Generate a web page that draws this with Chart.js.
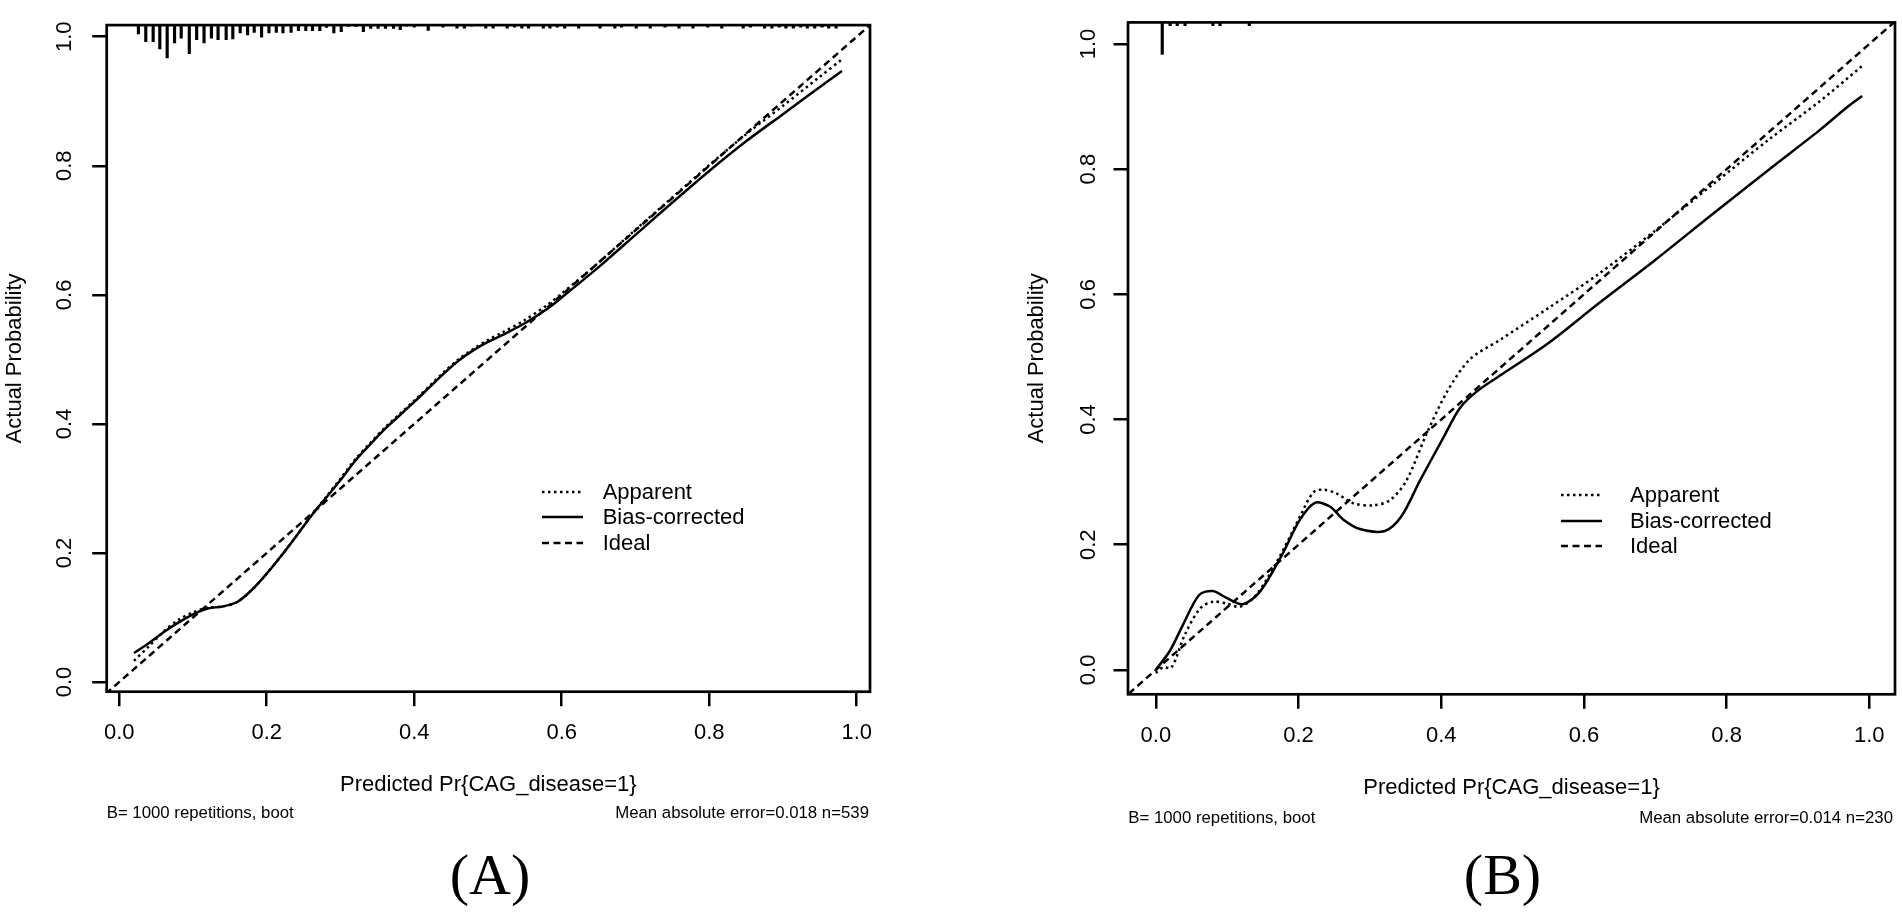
<!DOCTYPE html>
<html>
<head>
<meta charset="utf-8">
<title>Calibration curves</title>
<script src="https://cdn.jsdelivr.net/npm/chart.js@4.4.1/dist/chart.umd.min.js"></script>
<style>
  html, body { margin: 0; padding: 0; background: #fff; }
  body { width: 1902px; height: 912px; position: relative; overflow: hidden;
         font-family: "Liberation Sans", Arial, sans-serif; color: #000; }
  canvas { position: absolute; top: 0; }
  .note { position: absolute; font-size: 16.8px; line-height: 20px; white-space: nowrap; }
  .letter { position: absolute; width: 200px; text-align: center;
            font-family: "Liberation Serif", "Times New Roman", serif; font-size: 58px; line-height: 58px; }
  .legtext { position: absolute; font-size: 22px; line-height: 26px; white-space: nowrap; }
  .legline { position: absolute; }
</style>
</head>
<body>
<canvas id="chartA" width="951" height="912" style="left:0px"></canvas>
<canvas id="chartB" width="951" height="912" style="left:951px"></canvas>

<script>
// Shared labels
const tickValues = [0, 0.2, 0.4, 0.6, 0.8, 1.0];
const legendLabels = ["Apparent", "Bias-corrected", "Ideal"];
const xTitle = "Predicted Pr{CAG_disease=1}";
const yTitle = "Actual Probability";

// PANEL A data
const predA = [0.02, 0.04, 0.06, 0.08, 0.10, 0.12, 0.14, 0.16, 0.18, 0.20, 0.22, 0.24, 0.26, 0.28, 0.30,
  0.32, 0.34, 0.36, 0.38, 0.40, 0.42, 0.44, 0.46, 0.48, 0.50, 0.52, 0.55, 0.58, 0.60, 0.65, 0.70,
  0.75, 0.80, 0.85, 0.90, 0.95, 0.98];
const apparentA = [0.033, 0.055, 0.078, 0.096, 0.108, 0.115, 0.117, 0.124, 0.143, 0.168, 0.196, 0.226, 0.257, 0.286, 0.315,
  0.345, 0.370, 0.394, 0.415, 0.436, 0.458, 0.480, 0.500, 0.516, 0.530, 0.542, 0.561, 0.584, 0.602, 0.650, 0.701,
  0.751, 0.801, 0.849, 0.893, 0.938, 0.965];
const biasA = [0.045, 0.060, 0.077, 0.092, 0.105, 0.114, 0.117, 0.124, 0.143, 0.168, 0.196, 0.226, 0.257, 0.285, 0.313,
  0.343, 0.368, 0.392, 0.413, 0.434, 0.456, 0.478, 0.498, 0.514, 0.527, 0.538, 0.556, 0.578, 0.596, 0.643, 0.693,
  0.743, 0.792, 0.838, 0.880, 0.922, 0.947];
const idealA = [-0.03, 1.03];
const rugA_x = [0.026, 0.036, 0.046, 0.055, 0.065, 0.075, 0.084, 0.095, 0.105, 0.115, 0.125, 0.134, 0.145, 0.154,
  0.164, 0.174, 0.183, 0.193, 0.203, 0.213, 0.222, 0.233, 0.243, 0.253, 0.262, 0.272, 0.281, 0.291, 0.301,
  0.311, 0.321, 0.331, 0.341, 0.351, 0.361, 0.372, 0.381, 0.390, 0.400, 0.419, 0.439, 0.458, 0.468, 0.478,
  0.497, 0.507, 0.526, 0.536, 0.546, 0.555, 0.575, 0.584, 0.594, 0.604, 0.623, 0.652, 0.672, 0.681, 0.701,
  0.720, 0.740, 0.759, 0.778, 0.798, 0.817, 0.846, 0.856, 0.875, 0.885, 0.895, 0.904, 0.914, 0.924, 0.933,
  0.943, 0.953, 0.962, 0.972];
const rugA_n = [9, 16.7, 16.7, 24, 33.3, 18, 13.3, 29, 14.7, 18, 13.3, 14.7, 14.7, 14,
  8, 10, 7.3, 12.3, 8, 7.3, 8, 7.3, 5.7, 5.7, 5.7, 5.7, 2.3, 8, 6.7,
  1.3, 1.3, 6.7, 3.3, 3.3, 3.3, 3.3, 4.7, 1, 2, 5.5, 2, 3, 3, 1,
  3, 3, 3, 2, 3, 3, 3, 3, 2, 3, 3, 3, 3, 2, 3,
  3, 2, 3, 3, 2, 3, 3, 2, 3, 3, 2, 3, 3, 2, 3,
  3, 2, 3, 3];
const footA = ["B= 1000 repetitions, boot", "Mean absolute error=0.018 n=539"];

// PANEL B data
const apparentB_x = [0.0, 0.01, 0.022, 0.041, 0.062, 0.080, 0.099, 0.118, 0.141, 0.174, 0.202, 0.221, 0.235, 0.253,
  0.277, 0.305, 0.328, 0.351, 0.379, 0.408, 0.440, 0.482, 0.55, 0.62, 0.70, 0.78, 0.86, 0.93, 0.99];
const apparentB_y = [-0.005, 0.004, 0.004, 0.057, 0.098, 0.109, 0.106, 0.101, 0.120, 0.182, 0.245, 0.284, 0.288, 0.282,
  0.266, 0.263, 0.271, 0.302, 0.376, 0.444, 0.496, 0.527, 0.578, 0.632, 0.702, 0.775, 0.848, 0.908, 0.965];
const biasB_x = [0.0, 0.02, 0.038, 0.061, 0.080, 0.099, 0.122, 0.146, 0.176, 0.202, 0.223, 0.244, 0.263, 0.286,
  0.321, 0.344, 0.370, 0.403, 0.426, 0.450, 0.482, 0.55, 0.62, 0.70, 0.78, 0.86, 0.93, 0.97, 0.99];
const biasB_y = [0.0, 0.031, 0.072, 0.120, 0.126, 0.115, 0.105, 0.125, 0.182, 0.240, 0.267, 0.261, 0.240, 0.225,
  0.222, 0.245, 0.302, 0.371, 0.418, 0.445, 0.470, 0.522, 0.585, 0.655, 0.728, 0.800, 0.862, 0.900, 0.917];
const idealB = [-0.05, 1.05];
const rugB_x = [0.009, 0.020, 0.030, 0.041, 0.080, 0.090, 0.131];
const rugB_n = [33, 3.3, 3.3, 3.3, 3.3, 3.3, 3.3];
const footB = ["B= 1000 repetitions, boot", "Mean absolute error=0.014 n=230"];

// Page layout (pixels, page coordinates)
const layoutA = {
  canvas: "chartA", left: 0, width: 951, letter: "(A)",
  area: { left: 106.7, top: 8, right: 870, bottom: 691.7 },
  xRange: [-0.017, 1.018], yRange: [-0.015, 1.018],
  tickY: 733, yTickX: 65, xTitleY: 785, yTitleX: 15,
  legendLine: [541.7, 583], legendTextX: 602.7, legendY: [491.7, 517, 542.7],
  footY: 813, footLeft: 106.7, footRight: 869, letterX: 490
};
const layoutB = {
  canvas: "chartB", left: 951, width: 951, letter: "(B)",
  area: { left: 1128, top: 10, right: 1895, bottom: 694.3 },
  xRange: [-0.039, 1.036], yRange: [-0.039, 1.0345],
  tickY: 735.5, yTickX: 1089, xTitleY: 788.3, yTitleX: 1037,
  legendLine: [1561, 1602], legendTextX: 1630, legendY: [495, 520.5, 546],
  footY: 817.5, footLeft: 1128.3, footRight: 1893, letterX: 1502.5
};

const FONT = '"Liberation Sans", Arial, sans-serif';
const LABEL_SIZE = 22;
const TICK_LEN = 14.5;
const SPIKE_MAX = 0.051;   // longest rug spike, in y units
const lineStyles = [
  { dash: [2.5, 3.5], width: 2.5 },
  { dash: [], width: 2.5 },
  { dash: [7, 4.5], width: 2.5 }
];

Chart.defaults.font.family = FONT;
Chart.defaults.color = "#000";

function pairs(xs, ys) {
  return xs.map((x, i) => ({ x: x, y: ys[i] }));
}

// box around the plot region, like R's bty="o"
const framePlugin = {
  id: "frame",
  afterDraw(chart) {
    const { ctx, chartArea: a } = chart;
    ctx.save();
    ctx.strokeStyle = "#000";
    ctx.lineWidth = 2.7;
    ctx.strokeRect(a.left, a.top, a.right - a.left, a.bottom - a.top);
    ctx.restore();
  }
};

function measure(text, size) {
  const c = document.createElement("canvas").getContext("2d");
  c.font = size + "px " + FONT;
  return c.measureText(text).width;
}

function makeChart(L, series) {
  const a = L.area;
  const lineH = LABEL_SIZE * 1.2;
  const halfWidest = measure("0.0", LABEL_SIZE) / 2;
  const maxN = Math.max.apply(null, series.rugN);
  const yTop = L.yRange[1];

  const datasets = series.lines.map((s, i) => ({
    label: legendLabels[i],
    data: pairs(s.x, s.y),
    borderColor: "#000",
    borderWidth: lineStyles[i].width,
    borderDash: lineStyles[i].dash,
    pointRadius: 0,
    fill: false,
    tension: i === 2 ? 0 : 0.3,
    order: 1
  }));

  datasets.push({
    type: "bar",
    label: "rug",
    data: series.rugX.map((x, i) => ({ x: x, y: [yTop - series.rugN[i] / maxN * SPIKE_MAX, yTop] })),
    backgroundColor: "#000",
    borderWidth: 0,
    barThickness: 2.5,
    order: 2
  });

  const gridOpts = {
    drawOnChartArea: false, drawTicks: true, tickLength: TICK_LEN,
    color: "#000", lineWidth: 2.5, offset: false
  };

  return new Chart(document.getElementById(L.canvas), {
    type: "line",
    data: { datasets: datasets },
    options: {
      responsive: false,
      animation: false,
      devicePixelRatio: 1,
      layout: { padding: { left: 0, top: a.top, right: L.left + L.width - a.right, bottom: 0 } },
      plugins: { legend: { display: false }, tooltip: { enabled: false } },
      scales: {
        x: {
          type: "linear",
          offset: false,
          min: L.xRange[0],
          max: L.xRange[1],
          afterBuildTicks: s => { s.ticks = tickValues.map(v => ({ value: v })); },
          afterFit: s => { s.height = 912 - a.bottom; },
          grid: gridOpts,
          border: { display: false },
          ticks: {
            autoSkip: false, maxRotation: 0,
            font: { size: LABEL_SIZE },
            padding: L.tickY - a.bottom - TICK_LEN - lineH / 2,
            callback: v => v.toFixed(1)
          },
          title: {
            display: true, text: xTitle, font: { size: LABEL_SIZE },
            padding: { top: 0, bottom: 912 - L.xTitleY - lineH / 2 }
          }
        },
        y: {
          type: "linear",
          offset: false,
          min: L.yRange[0],
          max: L.yRange[1],
          afterBuildTicks: s => { s.ticks = tickValues.map(v => ({ value: v })); },
          afterFit: s => { s.width = a.left - L.left; },
          grid: gridOpts,
          border: { display: false },
          ticks: {
            autoSkip: false, minRotation: 90, maxRotation: 90, crossAlign: "center",
            font: { size: LABEL_SIZE },
            padding: a.left - L.yTickX - TICK_LEN - halfWidest,
            callback: v => v.toFixed(1)
          },
          title: {
            display: true, text: yTitle, font: { size: LABEL_SIZE },
            padding: { top: L.yTitleX - L.left - lineH / 2, bottom: 0 }
          }
        }
      }
    },
    plugins: [framePlugin]
  });
}

// legend, footnotes and panel letter as page text
function addText(L, foot) {
  legendLabels.forEach((label, i) => {
    const y = L.legendY[i];
    const w = L.legendLine[1] - L.legendLine[0];
    const ns = "http://www.w3.org/2000/svg";
    const svg = document.createElementNS(ns, "svg");
    svg.setAttribute("class", "legline");
    svg.setAttribute("width", w);
    svg.setAttribute("height", 8);
    svg.style.left = L.legendLine[0] + "px";
    svg.style.top = (y - 4) + "px";
    const ln = document.createElementNS(ns, "line");
    ln.setAttribute("x1", 0); ln.setAttribute("y1", 4);
    ln.setAttribute("x2", w); ln.setAttribute("y2", 4);
    ln.setAttribute("stroke", "#000");
    ln.setAttribute("stroke-width", lineStyles[i].width);
    if (lineStyles[i].dash.length) ln.setAttribute("stroke-dasharray", lineStyles[i].dash.join(" "));
    svg.appendChild(ln);
    document.body.appendChild(svg);

    const t = document.createElement("div");
    t.className = "legtext";
    t.textContent = label;
    t.style.left = L.legendTextX + "px";
    t.style.top = (y - 13) + "px";
    document.body.appendChild(t);
  });

  const left = document.createElement("div");
  left.className = "note";
  left.textContent = foot[0];
  left.style.left = L.footLeft + "px";
  left.style.top = (L.footY - 10) + "px";
  document.body.appendChild(left);

  const right = document.createElement("div");
  right.className = "note";
  right.textContent = foot[1];
  right.style.right = (1902 - L.footRight) + "px";
  right.style.top = (L.footY - 10) + "px";
  document.body.appendChild(right);

  const letter = document.createElement("div");
  letter.className = "letter";
  letter.textContent = L.letter;
  letter.style.left = (L.letterX - 100) + "px";
  letter.style.top = "846px";
  document.body.appendChild(letter);
}

makeChart(layoutA, {
  lines: [
    { x: predA, y: apparentA },
    { x: predA, y: biasA },
    { x: idealA, y: idealA }
  ],
  rugX: rugA_x, rugN: rugA_n
});
addText(layoutA, footA);

makeChart(layoutB, {
  lines: [
    { x: apparentB_x, y: apparentB_y },
    { x: biasB_x, y: biasB_y },
    { x: idealB, y: idealB }
  ],
  rugX: rugB_x, rugN: rugB_n
});
addText(layoutB, footB);
</script>
</body>
</html>
